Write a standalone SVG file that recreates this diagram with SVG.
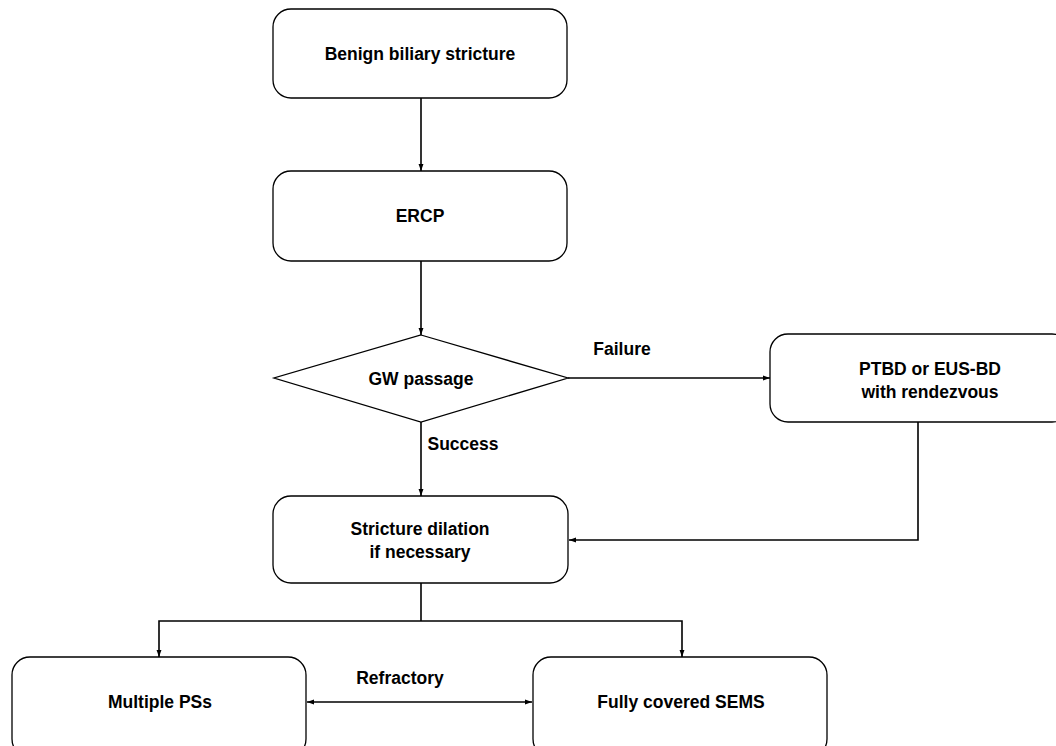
<svg xmlns="http://www.w3.org/2000/svg" width="1056" height="746" viewBox="0 0 1056 746">
<defs>
<style>
.box{fill:#fff;stroke:#000;stroke-width:1.3}
.t{font-family:"Liberation Sans",Arial,sans-serif;font-weight:bold;font-size:17.5px;fill:#000;text-anchor:middle}
.ln{fill:none;stroke:#000;stroke-width:1.6}
</style>
<marker id="ah" viewBox="0 0 10 10" refX="10" refY="5" markerWidth="7" markerHeight="7" orient="auto-start-reverse" markerUnits="userSpaceOnUse">
<path d="M0,1.5 L10,5 L0,8.5 z" fill="#000"/>
</marker>
</defs>
<rect width="1056" height="746" fill="#fff"/>
<g id="connectors">
<line class="ln" x1="421" y1="98" x2="421" y2="171" marker-end="url(#ah)"/>
<line class="ln" x1="421" y1="261" x2="421" y2="335" marker-end="url(#ah)"/>
<line class="ln" x1="568" y1="378" x2="770" y2="378" marker-end="url(#ah)"/>
<line class="ln" x1="421" y1="422" x2="421" y2="496" marker-end="url(#ah)"/>
<polyline class="ln" points="918,422 918,540 569,540" marker-end="url(#ah)"/>
<line class="ln" x1="421" y1="583" x2="421" y2="621"/>
<polyline class="ln" points="159,657 159,621 682,621 682,657" marker-start="url(#ah)" marker-end="url(#ah)"/>
<line class="ln" x1="307" y1="702" x2="532" y2="702" marker-start="url(#ah)" marker-end="url(#ah)"/>
<text class="t" x="622" y="355">Failure</text>
<text class="t" x="463" y="450">Success</text>
<text class="t" x="400" y="684">Refractory</text>
</g>
<g id="n1"><rect class="box" x="273" y="9" width="294" height="89" rx="18"/><text class="t" x="420" y="60">Benign biliary stricture</text></g>
<g id="n2"><rect class="box" x="273" y="171" width="294" height="90" rx="18"/><text class="t" x="420" y="222">ERCP</text></g>
<g id="n3"><polygon class="box" points="421,335 568,378 421,422 274,378"/><text class="t" x="421" y="385">GW passage</text></g>
<g id="n4"><rect class="box" x="770" y="334" width="300" height="88" rx="18"/><text class="t" x="930" y="375">PTBD or EUS-BD</text><text class="t" x="930" y="398">with rendezvous</text></g>
<g id="n5"><rect class="box" x="273" y="496" width="295" height="87" rx="18"/><text class="t" x="420" y="535">Stricture dilation</text><text class="t" x="420" y="558">if necessary</text></g>
<g id="n6"><rect class="box" x="12" y="657" width="294" height="100" rx="18"/><text class="t" x="160" y="708">Multiple PSs</text></g>
<g id="n7"><rect class="box" x="533" y="657" width="294" height="100" rx="18"/><text class="t" x="681" y="708">Fully covered SEMS</text></g>
</svg>
